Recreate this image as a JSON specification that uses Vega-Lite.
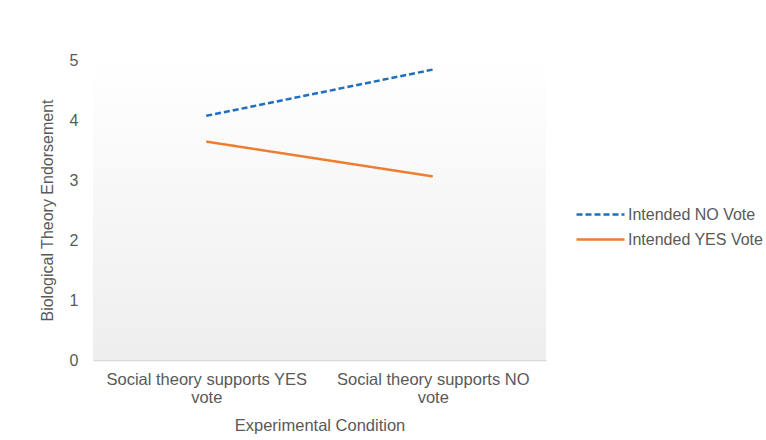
{
  "$schema": "https://vega.github.io/schema/vega-lite/v6.json",
  "width": 453,
  "height": 300,
  "autosize": "none",
  "padding": {"left": 93, "top": 60, "right": 220, "bottom": 80},
  "background": "#ffffff",
  "config": {
    "view": {"stroke": null},
    "font": "Liberation Sans"
  },
  "data": {
    "values": [
      {"condition": "Social theory supports YES vote", "vote": "Intended NO Vote", "value": 4.07},
      {"condition": "Social theory supports NO vote", "vote": "Intended NO Vote", "value": 4.84},
      {"condition": "Social theory supports YES vote", "vote": "Intended YES Vote", "value": 3.64},
      {"condition": "Social theory supports NO vote", "vote": "Intended YES Vote", "value": 3.06}
    ]
  },
  "layer": [
    {
      "data": {"values": [{"bg": 1}]},
      "mark": {
        "type": "rect",
        "color": {
          "gradient": "linear",
          "x1": 0, "y1": 0, "x2": 0, "y2": 1,
          "stops": [
            {"offset": 0, "color": "#ffffff"},
            {"offset": 1, "color": "#eeeeee"}
          ]
        }
      },
      "encoding": {}
    },
    {
      "mark": {"type": "line", "strokeWidth": 2.5},
      "encoding": {
        "x": {
          "field": "condition",
          "type": "nominal",
          "sort": null,
          "scale": {"type": "point", "padding": 0.5},
          "axis": {
            "title": "Experimental Condition",
            "labelAngle": 0,
            "labelLimit": 0,
            "labelExpr": "[slice(datum.label, 0, lastindexof(datum.label, ' ')), slice(datum.label, lastindexof(datum.label, ' ') + 1)]",
            "labelFontSize": 16.5,
            "labelColor": "#595959",
            "labelLineHeight": 18,
            "labelPadding": 11,
            "ticks": false,
            "domainColor": "#d9d9d9",
            "domainWidth": 1.5,
            "titleFontSize": 16.5,
            "titleFontWeight": "normal",
            "titleColor": "#595959",
            "titlePadding": 12
          }
        },
        "y": {
          "field": "value",
          "type": "quantitative",
          "scale": {"domain": [0, 5]},
          "axis": {
            "title": "Biological Theory Endorsement",
            "values": [0, 1, 2, 3, 4, 5],
            "grid": false,
            "domain": false,
            "ticks": false,
            "labelFontSize": 16,
            "labelColor": "#595959",
            "labelPadding": 15,
            "titleFontSize": 16,
            "titleFontWeight": "normal",
            "titleColor": "#595959",
            "titlePadding": 14
          }
        },
        "color": {
          "field": "vote",
          "type": "nominal",
          "scale": {"domain": ["Intended NO Vote", "Intended YES Vote"], "range": ["#1f6fc0", "#ed7d31"]},
          "legend": {
            "title": null,
            "orient": "none",
            "legendX": 494,
            "legendY": 141,
            "symbolType": "M-2,0H2",
            "symbolSize": 576,
            "symbolStrokeWidth": 2.5,
            "labelFontSize": 16,
            "labelColor": "#595959",
            "rowPadding": 3,
            "labelOffset": 14
          }
        },
        "strokeDash": {
          "field": "vote",
          "type": "nominal",
          "scale": {"domain": ["Intended NO Vote", "Intended YES Vote"], "range": [[6, 3], [1, 0]]},
          "legend": null
        }
      }
    }
  ]
}
